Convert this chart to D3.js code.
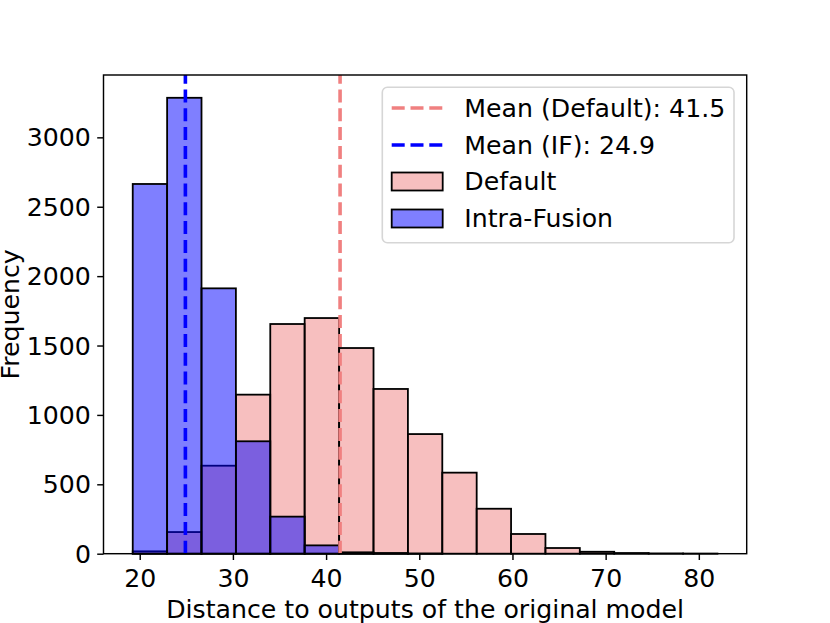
<!DOCTYPE html>
<html>
<head>
<meta charset="utf-8">
<script src="https://cdn.jsdelivr.net/npm/d3@7"></script>
<style>
  body { margin: 0; background: #fff; }
  text { font-family: "DejaVu Sans", sans-serif; fill: #000; }
</style>
</head>
<body>
<script>
// histogram bin edges (shared by both series)
const binEdges = [19.25, 22.94, 26.63, 30.32, 34.01, 37.70, 41.40, 45.09, 48.78,
  52.47, 56.16, 59.85, 63.54, 67.23, 70.92, 74.62, 78.31, 82.00];
// counts per bin
const defaultCounts = [17, 156, 634, 1146, 1655, 1698, 1482, 1187, 862, 584, 324, 142, 41, 14, 5, 2, 1];
const fusionCounts = [2664, 3285, 1912, 810, 267, 60, 10, 5, 1, 0, 0, 0, 0, 0, 0, 0, 0];
const meanDefault = 41.5;
const meanFusion = 24.9;
const xTicks = [20, 30, 40, 50, 60, 70, 80];
const yTicks = [0, 500, 1000, 1500, 2000, 2500, 3000];
const legendLabels = ["Mean (Default): 41.5", "Mean (IF): 24.9", "Default", "Intra-Fusion"];

const svgWidth = 830, svgHeight = 623;
const margin = { top: 75, right: 83.3, bottom: 69.3, left: 103.5 };
const fontSize = 25.2;

const svg = d3.select('body').append('svg')
  .attr('width', svgWidth)
  .attr('height', svgHeight);

svg.append('rect').attr('width', svgWidth).attr('height', svgHeight).attr('fill', '#fff');

// matplotlib style 5% margins on x, 5% headroom on y
const lo = binEdges[0], hi = binEdges[binEdges.length - 1];
const pad = (hi - lo) * 0.05;
const yMax = d3.max(fusionCounts.concat(defaultCounts)) * 1.05;

const xScale = d3.scaleLinear()
  .domain([lo - pad, hi + pad])
  .range([margin.left, svgWidth - margin.right]);

const yScale = d3.scaleLinear()
  .domain([0, yMax])
  .range([svgHeight - margin.bottom, margin.top]);

const bins = c => c.map((v, i) => ({ x0: binEdges[i], x1: binEdges[i + 1], n: v }));

function drawBars(counts, fill) {
  svg.append('g').selectAll('rect')
    .data(bins(counts))
    .enter().append('rect')
    .attr('x', d => xScale(d.x0))
    .attr('y', d => yScale(d.n))
    .attr('width', d => xScale(d.x1) - xScale(d.x0))
    .attr('height', d => yScale(0) - yScale(d.n))
    .attr('fill', fill)
    .attr('stroke', '#000')
    .attr('stroke-width', 1.8);
}
drawBars(defaultCounts, 'rgba(240,128,128,0.5)');
drawBars(fusionCounts, 'rgba(0,0,255,0.5)');

// mean lines, dashes start at the bottom like axvline
const dash = '13,5.8';
[[meanDefault, '#f08080'], [meanFusion, '#0000ff']].forEach(([m, c]) => {
  svg.append('line')
    .attr('x1', xScale(m)).attr('x2', xScale(m))
    .attr('y1', yScale(0)).attr('y2', margin.top)
    .attr('stroke', c)
    .attr('stroke-width', 3.6)
    .attr('stroke-dasharray', dash);
});

// x-axis
const xAxis = svg.append('g')
  .attr('transform', `translate(0, ${yScale(0)})`)
  .call(d3.axisBottom(xScale).tickValues(xTicks).tickFormat(d3.format('d'))
    .tickSize(6.3).tickPadding(6.3));

// y-axis
const yAxis = svg.append('g')
  .attr('transform', `translate(${margin.left}, 0)`)
  .call(d3.axisLeft(yScale).tickValues(yTicks).tickFormat(d3.format('d'))
    .tickSize(6.3).tickPadding(6.3));

[xAxis, yAxis].forEach(g => {
  g.select('.domain').remove();
  g.selectAll('line').attr('stroke', '#000').attr('stroke-width', 1.44);
  g.selectAll('text').style('font-size', fontSize + 'px').attr('font-family', null);
});
xAxis.selectAll('text').attr('dy', null).attr('y', 33);
yAxis.selectAll('text').attr('dy', '0.34em');

// axes frame
svg.append('rect')
  .attr('x', margin.left).attr('y', margin.top)
  .attr('width', svgWidth - margin.right - margin.left)
  .attr('height', yScale(0) - margin.top)
  .attr('fill', 'none')
  .attr('stroke', '#000')
  .attr('stroke-width', 1.44);

// axis titles
svg.append('text')
  .attr('x', (margin.left + svgWidth - margin.right) / 2)
  .attr('y', 617.5)
  .attr('text-anchor', 'middle')
  .style('font-size', fontSize + 'px')
  .text('Distance to outputs of the original model');

svg.append('text')
  .attr('transform', `translate(18.5, ${(margin.top + yScale(0)) / 2}) rotate(-90)`)
  .attr('text-anchor', 'middle')
  .style('font-size', fontSize + 'px')
  .text('Frequency');

// legend
const legend = svg.append('g');
legend.append('rect')
  .attr('x', 382.3).attr('y', 87.3)
  .attr('width', 351.7).attr('height', 155.4)
  .attr('rx', 5).attr('ry', 5)
  .attr('fill', 'rgba(255,255,255,0.8)')
  .attr('stroke', '#d6d6d6')
  .attr('stroke-width', 1.6);

const rowY = [108, 145, 181.5, 218.5];
const legendKinds = [
  { type: 'line', color: '#f08080' },
  { type: 'line', color: '#0000ff' },
  { type: 'patch', color: 'rgba(240,128,128,0.5)' },
  { type: 'patch', color: 'rgba(0,0,255,0.5)' }
];
legendKinds.forEach((k, i) => {
  if (k.type === 'line') {
    legend.append('line')
      .attr('x1', 391.7).attr('x2', 442.7)
      .attr('y1', rowY[i]).attr('y2', rowY[i])
      .attr('stroke', k.color)
      .attr('stroke-width', 3.6)
      .attr('stroke-dasharray', dash);
  } else {
    legend.append('rect')
      .attr('x', 391.7).attr('y', rowY[i] - 9)
      .attr('width', 51).attr('height', 18)
      .attr('fill', k.color)
      .attr('stroke', '#000')
      .attr('stroke-width', 1.8);
  }
  legend.append('text')
    .attr('x', 464.3)
    .attr('y', rowY[i] + 8.9)
    .style('font-size', fontSize + 'px')
    .text(legendLabels[i]);
});
</script>
</body>
</html>
